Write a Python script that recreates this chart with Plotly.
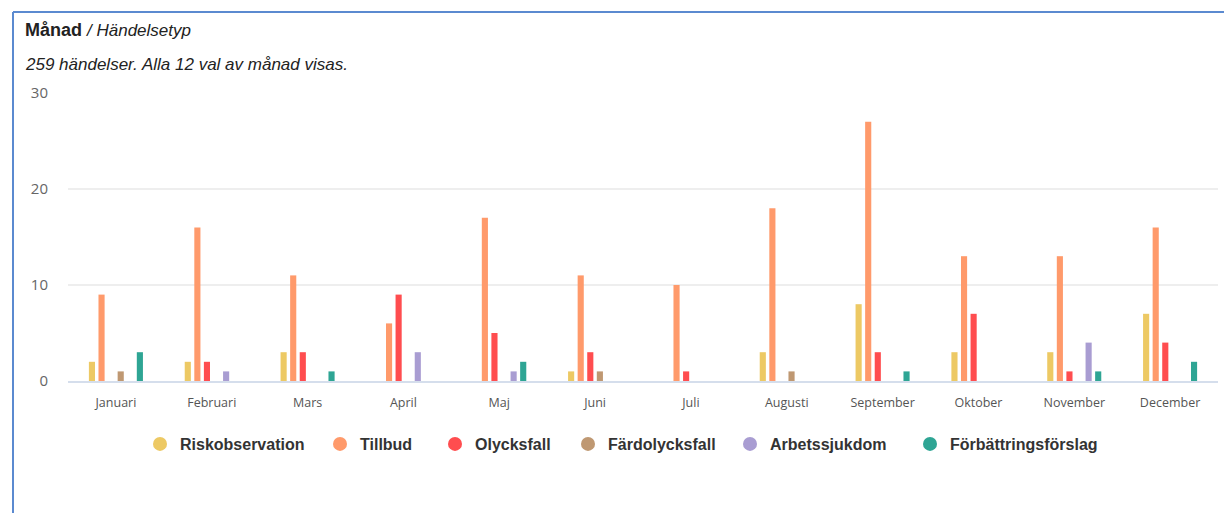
import plotly.graph_objects as go

months = ["Januari", "Februari", "Mars", "April", "Maj", "Juni", "Juli",
          "Augusti", "September", "Oktober", "November", "December"]
series_names = ["Riskobservation", "Tillbud", "Olycksfall", "Färdolycksfall",
                "Arbetssjukdom", "Förbättringsförslag"]
riskobservation = [2, 2, 3, 0, 0, 1, 0, 3, 8, 3, 3, 7]
tillbud = [9, 16, 11, 6, 17, 11, 10, 18, 27, 13, 13, 16]
olycksfall = [0, 2, 3, 9, 5, 3, 1, 0, 3, 7, 1, 4]
fardolycksfall = [1, 0, 0, 0, 0, 1, 0, 1, 0, 0, 0, 0]
arbetssjukdom = [0, 1, 0, 3, 1, 0, 0, 0, 0, 0, 4, 0]
forbattringsforslag = [3, 0, 1, 0, 2, 0, 0, 0, 1, 0, 1, 2]
colors = ["#EDC964", "#FF9A6B", "#FF4D4F", "#BF9872", "#A99DD2", "#2EA594"]
y_ticks = [0, 10, 20, 30]

series_values = [riskobservation, tillbud, olycksfall, fardolycksfall,
                 arbetssjukdom, forbattringsforslag]

# page body has an 8px margin; screen coords = figure coords + OFF
OFF = 8
W, H = 1232, 513
ML, MR, MT, MB = 60, 22, 85, 140
PW = W - ML - MR
PH = H - MT - MB


def sx(px):
    """screen x pixel -> paper x"""
    return (px - OFF - ML) / PW


def sy(py):
    """screen y pixel -> paper y"""
    return (H - MB - (py - OFF)) / PH


legend_circle_px = [160, 340, 455, 588, 750, 930]
LEG_D = 20

fig = go.Figure()
for name, vals, col in zip(series_names, series_values, colors):
    fig.add_trace(go.Bar(
        x=months, y=vals, name=name, marker_color=col,
        marker_line_width=0, showlegend=False, legendgroup=name,
        hovertemplate="%{x}<br>" + name + ": %{y}<extra></extra>",
    ))

legend_layouts = {}
for i, (name, col) in enumerate(zip(series_names, colors)):
    key = "legend" if i == 0 else f"legend{i + 1}"
    fig.add_trace(go.Scatter(
        x=[None], y=[None], mode="markers", name=name, legendgroup=name,
        legend=key, marker=dict(symbol="circle", size=14, color=col),
    ))
    legend_layouts[key] = dict(
        orientation="h", x=sx(legend_circle_px[i] - LEG_D), xanchor="left",
        y=sy(444), yanchor="middle", bgcolor="rgba(0,0,0,0)",
        font=dict(family="Liberation Sans, Arial, sans-serif", size=16,
                  color="#333", weight="bold"),
    )

fig.update_layout(
    width=W, height=H,
    margin=dict(l=ML, r=MR, t=MT, b=MB),
    paper_bgcolor="white", plot_bgcolor="white",
    barmode="group", bargap=0.4, bargroupgap=0.36,
    font=dict(family="Open Sans, Arial, sans-serif", size=12, color="#555"),
    showlegend=True,
    xaxis=dict(showgrid=False, showline=True, linecolor="#D5DEEC", linewidth=2,
               tickfont=dict(size=12.5, color="#555"), ticks="", fixedrange=True,
               ticklabelstandoff=9),
    yaxis=dict(range=[0, 30], tickvals=y_ticks, showgrid=True, gridcolor="#EEEEEE",
               gridwidth=1.5, zeroline=False, showline=False,
               tickfont=dict(size=15, color="#666"), ticklabelstandoff=19),
    shapes=[
        dict(type="line", xref="paper", yref="paper", x0=sx(13), x1=sx(W + 20),
             y0=sy(12), y1=sy(12), line=dict(color="#5B8AD0", width=2)),
        dict(type="line", xref="paper", yref="paper", x0=sx(13), x1=sx(13),
             y0=sy(12), y1=sy(H + 20), line=dict(color="#5B8AD0", width=2)),
    ],
    annotations=[
        dict(xref="paper", yref="paper", x=sx(23), y=sy(30), xanchor="left",
             yanchor="middle", showarrow=False,
             text="<b>Månad</b> <i><span style='font-size:17px;font-weight:normal'>/ Händelsetyp</span></i>",
             font=dict(family="Liberation Sans, Arial", size=18, color="#222")),
        dict(xref="paper", yref="paper", x=sx(23), y=sy(65), xanchor="left",
             yanchor="middle", showarrow=False,
             text="<i>259 händelser. Alla 12 val av månad visas.</i>",
             font=dict(family="Liberation Sans, Arial", size=17, color="#222")),
    ],
    **legend_layouts,
)

fig.write_html("out.html")
